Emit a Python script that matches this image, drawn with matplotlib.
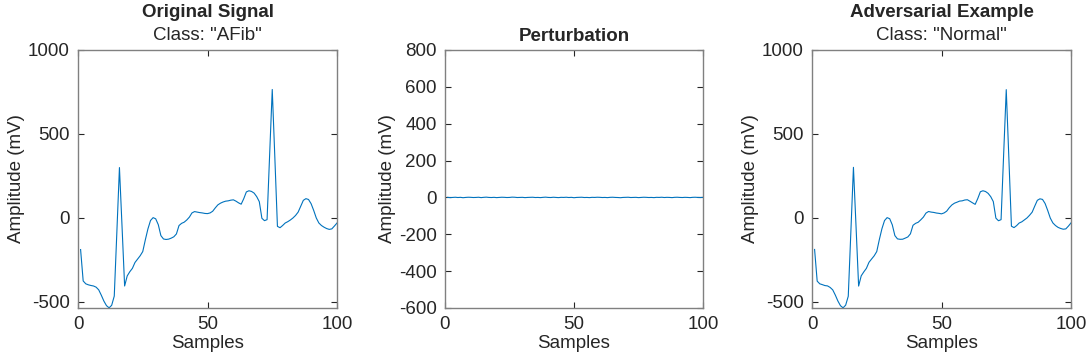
import numpy as np
import matplotlib.pyplot as plt

plt.rcParams['font.family'] = ['Liberation Sans', 'DejaVu Sans']
plt.rcParams['axes.unicode_minus'] = False

# original ECG segment (mV), samples 1..100
original = [-188, -375, -392, -398, -402, -405, -412, -428, -460, -495,
            -522, -535, -520, -465, -85, 300, -50, -405, -345, -320,
            -300, -265, -245, -225, -200, -130, -65, -15, 2, -5,
            -40, -105, -125, -128, -126, -120, -112, -95, -45, -32,
            -25, -12, 5, 30, 38, 35, 32, 30, 27, 26,
            30, 40, 60, 78, 88, 95, 100, 102, 106, 108,
            100, 90, 82, 115, 155, 162, 158, 148, 127, 97,
            -2, -16, -10, 380, 765, 360, -50, -58, -45, -30,
            -22, -12, 0, 15, 35, 70, 105, 115, 110, 85,
            45, 0, -30, -45, -55, -63, -68, -65, -48, -30]

# adversarial perturbation (mV), very small
perturbation = [0.5, -1, 0, 1, -0.5, 0.5, -1.5, 0, 1, 0.5,
                -0.5, 0, 1, -1, 0.5, 1.5, 0, -0.5, 0.5, -1,
                0, 1, 0.5, -0.5, 0, 1.5, 1, -0.5, 0, 0.5,
                -1, 0, 0.5, 1, -0.5, 0, -1, 0.5, 1.5, 0,
                -0.5, 1, 0, -1, 0.5, 0, 1, -0.5, 0.5, -1.5,
                0, 0.5, 1, -0.5, 0, -1, 0.5, 0, 1, 0.5,
                -0.5, 0, -1, 0.5, 1, 0, -0.5, -1.5, 0, 0.5,
                1, -0.5, 0, 0.5, -1, 0, 1, 0.5, -0.5, 0,
                -1, 0.5, 0, 1, -0.5, 0.5, 0, -1, 0.5, 1,
                0, -0.5, 0.5, 0, -1, 0.5, 1, 0, -0.5, 0.5]

samples = np.arange(1, len(original) + 1)
adversarial = np.array(original) + np.array(perturbation)

W, H = 1086, 361
fig = plt.figure(figsize=(W / 100, H / 100), dpi=100)

txt = '#262626'
edge = '#808080'
blue = '#0072BD'
fs = 13.5


def make_ax(x0, x1, top, bottom):
    ax = fig.add_axes([x0 / W, 1 - bottom / H, (x1 - x0) / W, (bottom - top) / H])
    for s in ax.spines.values():
        s.set_color(edge)
        s.set_linewidth(1.0)
    ax.tick_params(direction='in', length=4, width=0.8, colors=txt,
                   labelsize=fs, top=True, right=True, pad=6)
    ax.set_xlim(0, 100)
    ax.set_xticks([0, 50, 100])
    ax.set_xlabel('Samples', fontsize=fs, color=txt, labelpad=1)
    ax.set_ylabel('Amplitude (mV)', fontsize=fs, color=txt, labelpad=2)
    return ax


ax1 = make_ax(78, 337, 50, 308)
ax1.plot(samples, original, color=blue, lw=0.8)
ax1.set_ylim(-536, 1000)
ax1.set_yticks([-500, 0, 500, 1000])
ax1.text(0.5, 1.147, 'Original Signal', transform=ax1.transAxes, ha='center',
         va='center', fontsize=fs, fontweight='bold', color=txt)
ax1.text(0.5, 1.058, 'Class: "AFib"', transform=ax1.transAxes, ha='center',
         va='center', fontsize=fs, color=txt)

ax2 = make_ax(445, 703, 50, 308)
ax2.plot(samples, perturbation, color=blue, lw=0.8)
ax2.set_ylim(-600, 800)
ax2.set_yticks(np.arange(-600, 801, 200))
ax2.text(0.5, 1.054, 'Perturbation', transform=ax2.transAxes, ha='center',
         va='center', fontsize=fs, fontweight='bold', color=txt)

ax3 = make_ax(812, 1071, 50, 308)
ax3.plot(samples, adversarial, color=blue, lw=0.8)
ax3.set_ylim(-536, 1000)
ax3.set_yticks([-500, 0, 500, 1000])
ax3.text(0.5, 1.147, 'Adversarial Example', transform=ax3.transAxes, ha='center',
         va='center', fontsize=fs, fontweight='bold', color=txt)
ax3.text(0.5, 1.058, 'Class: "Normal"', transform=ax3.transAxes, ha='center',
         va='center', fontsize=fs, color=txt)

fig.savefig('out.png', dpi=100)
